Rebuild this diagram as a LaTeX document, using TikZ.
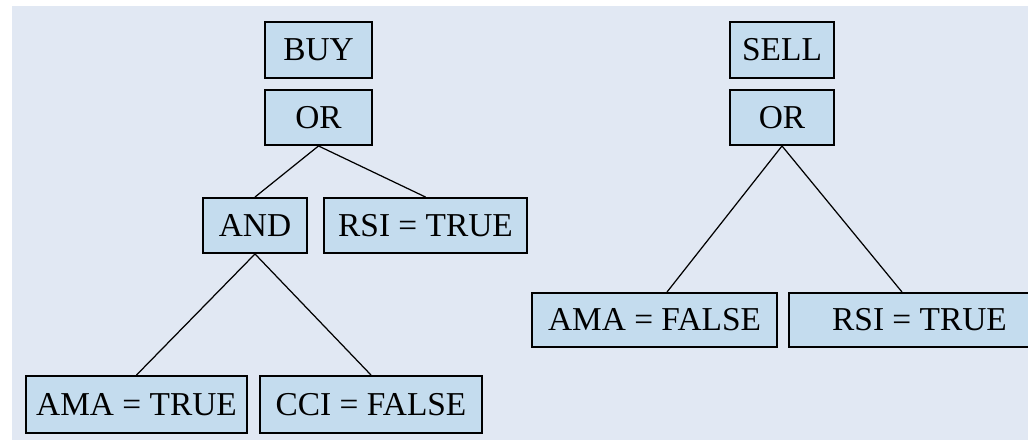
\documentclass[tikz,border=0pt]{standalone}
\usepackage{fontspec}
\setmainfont{Liberation Serif}
\definecolor{bgblue}{HTML}{E1E8F3}
\definecolor{boxblue}{HTML}{C4DCEE}
\tikzset{
  gate/.style={draw=black,line width=1.1pt,fill=boxblue,inner sep=0pt,
    font=\fontsize{19}{22}\selectfont},
  link/.style={line width=0.7pt}
}
\begin{document}
\begin{tikzpicture}

\useasboundingbox (0,0) rectangle (20.56,8.8);
\fill[bgblue] (0.24,0) rectangle (20.56,8.68);

% buy rule
\node[gate,minimum width=2.14cm,minimum height=1.12cm] (buy) at (6.37,7.8) {BUY};
\node[gate,minimum width=2.14cm,minimum height=1.1cm] (buyor) at (6.37,6.45) {OR};
\node[gate,minimum width=2.08cm,minimum height=1.1cm] (buyand) at (5.10,4.29) {AND};
\node[gate,minimum width=4.06cm,minimum height=1.1cm] (buyrsi) at (8.51,4.29) {RSI = TRUE};
\node[gate,minimum width=4.42cm,minimum height=1.14cm] (buyama) at (2.73,0.71) {AMA = TRUE};
\node[gate,minimum width=4.44cm,minimum height=1.14cm] (buycci) at (7.42,0.71) {CCI = FALSE};

\draw[link] (buyor.south)--(buyand.north);
\draw[link] (buyor.south)--(buyrsi.north);
\draw[link] (buyand.south)--(buyama.north);
\draw[link] (buyand.south)--(buycci.north);

% sell rule
\node[gate,minimum width=2.08cm,minimum height=1.12cm] (sell) at (15.64,7.8) {SELL};
\node[gate,minimum width=2.08cm,minimum height=1.1cm] (sellor) at (15.64,6.45) {OR};
\node[gate,minimum width=4.9cm,minimum height=1.08cm] (sellama) at (13.09,2.4) {AMA = FALSE};
\node[gate,minimum width=5.22cm,minimum height=1.08cm] (sellrsi) at (18.39,2.4) {RSI = TRUE};

\draw[link] (sellor.south)--([xshift=0.25cm]sellama.north);
\draw[link] (sellor.south)--([xshift=-0.35cm]sellrsi.north);

\end{tikzpicture}
\end{document}
